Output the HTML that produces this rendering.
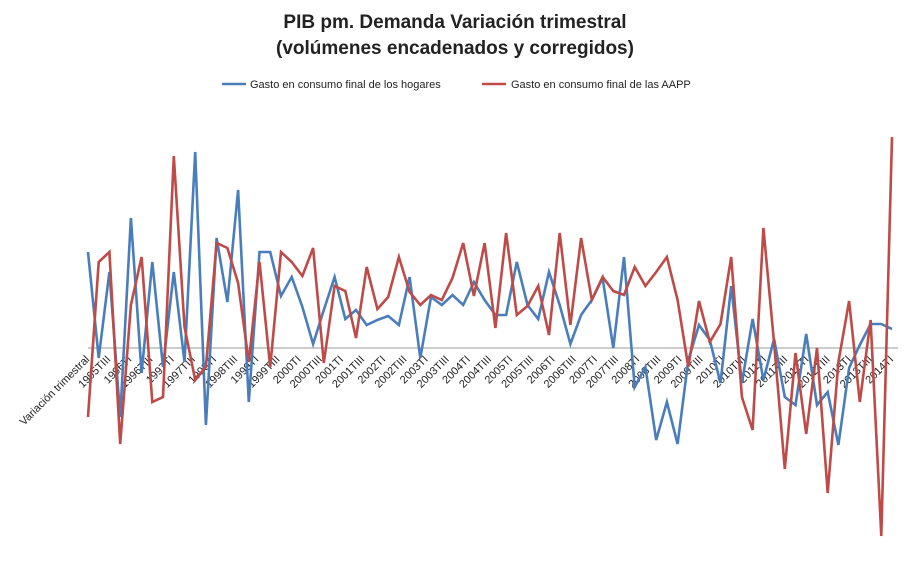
<!DOCTYPE html>
<html><head><meta charset="utf-8"><style>
body{margin:0;background:#fff;}
svg text{font-family:"Liberation Sans",sans-serif;}
</style></head><body>
<svg id="c" width="907" height="580">
<text x="455" y="28" text-anchor="middle" font-size="19" font-weight="bold" fill="#222">PIB pm. Demanda Variación trimestral</text>
<text x="455" y="54" text-anchor="middle" font-size="19" font-weight="bold" fill="#222">(volúmenes encadenados y corregidos)</text>
<g>
<line x1="222" y1="84" x2="246" y2="84" stroke="#4a7ebb" stroke-width="2.5"/>
<text x="250" y="88" font-size="11" fill="#222">Gasto en consumo final de los hogares</text>
<line x1="482" y1="84" x2="506" y2="84" stroke="#be4b48" stroke-width="2.5"/>
<text x="511" y="88" font-size="11" fill="#222">Gasto en consumo final de las AAPP</text>
</g>
<line x1="88" y1="348" x2="898" y2="348" stroke="#999" stroke-width="1"/>
<g id="labels"></g>
<g id="series"></g>
</svg>
<script>
const hogares=[0.96,-0.10,0.76,-0.69,1.30,-0.25,0.86,-0.19,0.76,-0.14,1.96,-0.77,1.10,0.46,1.58,-0.54,0.96,0.96,0.52,0.71,0.41,0.04,0.38,0.71,0.29,0.38,0.23,0.28,0.32,0.23,0.71,-0.10,0.51,0.43,0.53,0.43,0.66,0.48,0.33,0.33,0.86,0.43,0.29,0.76,0.43,0.04,0.33,0.48,0.70,0.00,0.91,-0.39,-0.19,-0.92,-0.54,-0.96,-0.12,0.23,0.08,-0.35,0.62,-0.35,0.29,-0.32,0.09,-0.49,-0.57,0.14,-0.57,-0.44,-0.97,-0.20,0.03,0.24,0.24,0.19];
const aapp=[-0.69,0.86,0.96,-0.96,0.43,0.91,-0.54,-0.49,1.92,0.21,-0.32,-0.19,1.05,1.00,0.65,-0.14,0.86,-0.19,0.96,0.86,0.72,1.00,-0.15,0.62,0.57,0.10,0.81,0.39,0.51,0.91,0.56,0.43,0.53,0.48,0.70,1.05,0.52,1.05,0.20,1.15,0.33,0.42,0.62,0.13,1.15,0.23,1.10,0.48,0.71,0.57,0.53,0.81,0.62,0.76,0.91,0.48,-0.19,0.47,0.06,0.24,0.91,-0.49,-0.82,1.20,0.05,-1.21,-0.05,-0.86,0.00,-1.45,-0.14,0.47,-0.54,0.28,-1.88,2.11];
const xLabels=["Variación trimestral"];
for(let y=1995;y<=2013;y++){xLabels.push(y+"TIII");xLabels.push((y+1)+"TI");}
const NS="http://www.w3.org/2000/svg";
const x0=88,x1=892;
function xScale(i,n){return x0+(x1-x0)*i/(n-1);}
function yScale(v){return 348-v*100;}
const ser=document.getElementById('series');
function draw(vals,color,name){
  const p=document.createElementNS(NS,'polyline');
  p.setAttribute('points',vals.map((v,i)=>xScale(i,vals.length).toFixed(1)+","+yScale(v).toFixed(1)).join(" "));
  p.setAttribute('fill','none');p.setAttribute('stroke',color);p.setAttribute('stroke-width','2.6');p.setAttribute('stroke-linejoin','miter');
  
  
  ser.appendChild(p);
}
draw(hogares,'#4a7ebb','series-hogares');
draw(aapp,'#be4b48','series-aapp');
const lg=document.getElementById('labels');
xLabels.forEach((t,i)=>{
  const x=xScale(i,xLabels.length);
  const el=document.createElementNS(NS,'text');
  el.setAttribute('transform','translate('+(x+2)+',360) rotate(-45)');
  el.setAttribute('text-anchor','end');el.setAttribute('font-size','11');el.setAttribute('fill','#222');
  el.textContent=t;
  
  
  lg.appendChild(el);
});
</script>
</body></html>
